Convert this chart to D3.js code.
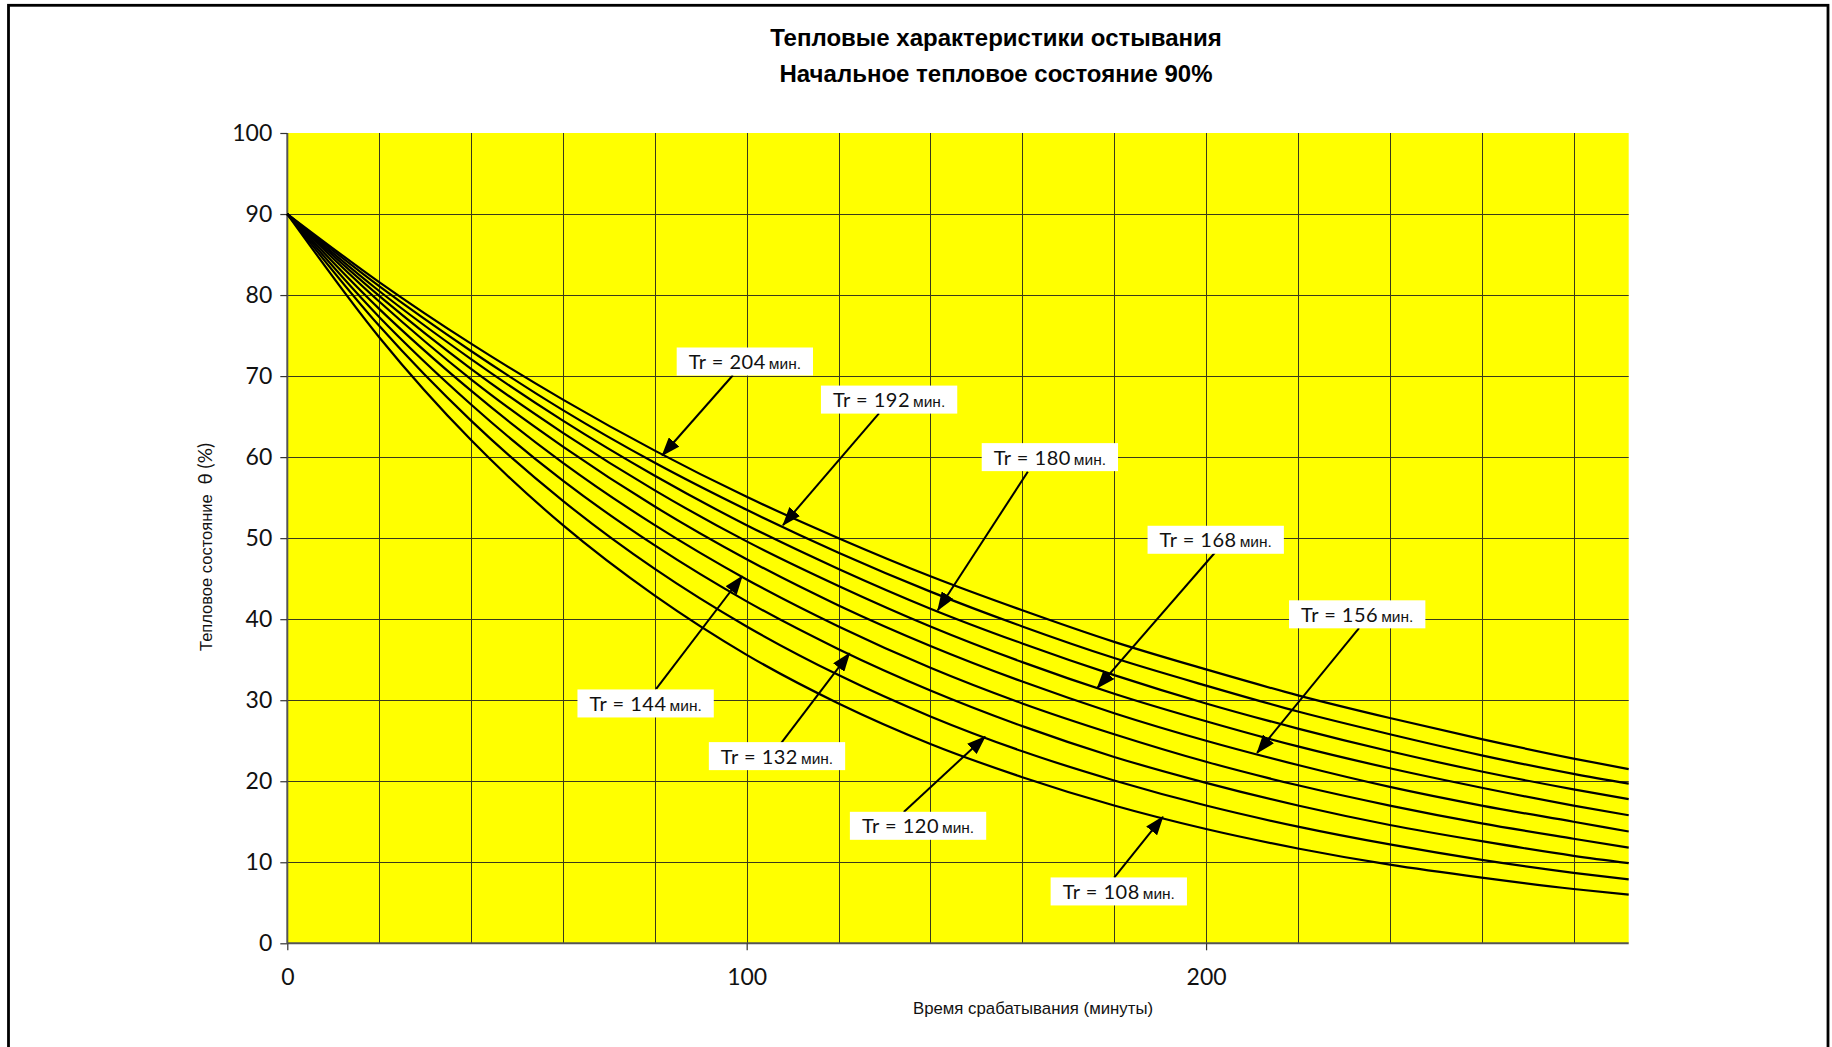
<!DOCTYPE html>
<html><head><meta charset="utf-8">
<script src="https://cdn.jsdelivr.net/npm/d3@7"></script>
<style>body{margin:0;background:#fff;overflow:hidden}</style>
</head><body><svg id="c" width="1832" height="1047"></svg>
<script>
// ---- data ----
const titleLines = ["Тепловые характеристики остывания", "Начальное тепловое состояние 90%"];
const xAxisTitle = "Время срабатывания (минуты)";
const yAxisTitle = "Тепловое состояние";
const xTickValues = [0, 100, 200];
const yTickValues = [0, 10, 20, 30, 40, 50, 60, 70, 80, 90, 100];
const timeMinutes = [0, 20, 40, 60, 80, 100, 120, 140, 160, 180, 200, 220, 240, 260, 280, 292];
const trValues = [108, 120, 132, 144, 156, 168, 180, 192, 204];
const theta108 = [90, 74.8, 62.1, 51.6, 42.9, 35.6, 29.6, 24.6, 20.5, 17.0, 14.1, 11.7, 9.7, 8.1, 6.7, 6.0];
const theta120 = [90, 76.2, 64.5, 54.6, 46.2, 39.1, 33.1, 28.0, 23.7, 20.1, 17.0, 14.4, 12.2, 10.3, 8.7, 7.9];
const theta132 = [90, 77.3, 66.5, 57.1, 49.1, 42.2, 36.3, 31.2, 26.8, 23.0, 19.8, 17.0, 14.6, 12.6, 10.8, 9.9];
const theta144 = [90, 78.3, 68.2, 59.3, 51.6, 44.9, 39.1, 34.0, 29.6, 25.8, 22.4, 19.5, 17.0, 14.8, 12.9, 11.8];
const theta156 = [90, 79.2, 69.6, 61.3, 53.9, 47.4, 41.7, 36.7, 32.3, 28.4, 25.0, 22.0, 19.3, 17.0, 15.0, 13.8];
const theta168 = [90, 79.9, 70.9, 63.0, 55.9, 49.6, 44.1, 39.1, 34.7, 30.8, 27.4, 24.3, 21.6, 19.2, 17.0, 15.8];
const theta180 = [90, 80.5, 72.1, 64.5, 57.7, 51.6, 46.2, 41.3, 37.0, 33.1, 29.6, 26.5, 23.7, 21.2, 19.0, 17.8];
const theta192 = [90, 81.1, 73.1, 65.8, 59.3, 53.5, 48.2, 43.4, 39.1, 35.2, 31.8, 28.6, 25.8, 23.2, 20.9, 19.7];
const theta204 = [90, 81.6, 74.0, 67.1, 60.8, 55.1, 50.0, 45.3, 41.1, 37.2, 33.8, 30.6, 27.8, 25.2, 22.8, 21.5];
const seriesValues = [theta108, theta120, theta132, theta144, theta156, theta168, theta180, theta192, theta204];

// annotation anchors in data units (box centre, arrow tail, arrow tip)
const annoTr   = [204, 192, 180, 168, 156, 144, 132, 120, 108];
const annoBoxX = [99.6, 131.0, 166.0, 202.1, 232.9, 78.0, 106.6, 137.3, 181.0];
const annoBoxY = [71.8, 67.1, 60.0, 49.8, 40.6, 29.6, 23.1, 14.5, 6.4];
const annoTailX = [97.0, 128.8, 161.2, 201.9, 233.3, 80.3, 107.5, 134.2, 180.0];
const annoTailY = [70.1, 65.4, 58.2, 48.2, 38.9, 31.4, 24.7, 16.2, 8.1];
const annoTipX = [81.6, 107.9, 141.6, 176.3, 211.1, 99.0, 122.4, 151.9, 190.6];
const annoTipY = [60.2, 51.6, 41.1, 31.5, 23.5, 45.3, 35.8, 25.5, 15.6];

// ---- drawing ----
const svg = d3.select("#c");
const L = 287.3, R = 1628.7, T = 133, B = 943.3;
const x = d3.scaleLinear().domain([0, 292]).range([L, R]);
const y = d3.scaleLinear().domain([0, 100]).range([B, T]);
const geo = "Lato, 'Open Sans', sans-serif";
const arial = "'Liberation Sans', Arial, sans-serif";

// outer frame
svg.append("rect").attr("x", 8.5).attr("y", 5.3).attr("width", 1819.5).attr("height", 1100)
  .attr("fill", "none").attr("stroke", "#000").attr("stroke-width", 2.8);

// titles
svg.selectAll("text.title").data(titleLines).join("text").attr("class", "title")
  .attr("x", 996).attr("y", (d, i) => 46 + i * 36)
  .attr("text-anchor", "middle").attr("font-family", arial).attr("font-weight", "bold")
  .attr("font-size", 24).text(d => d);

// plot area
svg.append("rect").attr("x", L).attr("y", T).attr("width", R - L).attr("height", B - T).attr("fill", "#ffff00");

// grid
const gridY = yTickValues.filter(v => v > 0 && v < 100);
svg.append("g").selectAll("line").data(gridY).join("line")
  .attr("x1", L).attr("x2", R).attr("y1", d => Math.round(y(d)) + 0.5).attr("y2", d => Math.round(y(d)) + 0.5)
  .attr("stroke", "#3a3a1a").attr("stroke-width", 1);
const gridX = d3.range(20, 292, 20);
svg.append("g").selectAll("line").data(gridX).join("line")
  .attr("y1", T).attr("y2", B).attr("x1", d => Math.round(x(d)) + 0.5).attr("x2", d => Math.round(x(d)) + 0.5)
  .attr("stroke", "#3a3a1a").attr("stroke-width", 1);

// axes
const yAxis = svg.append("g").attr("transform", `translate(${L},0)`)
  .call(d3.axisLeft(y).tickValues(yTickValues).tickSize(7).tickSizeOuter(0).tickPadding(8).tickFormat(d3.format("d")));
const xAxis = svg.append("g").attr("transform", `translate(0,${B})`)
  .call(d3.axisBottom(x).tickValues(xTickValues).tickSize(7).tickSizeOuter(0).tickPadding(18).tickFormat(d3.format("d")));
[yAxis, xAxis].forEach(g => {
  g.select(".domain").attr("stroke", "#555").attr("stroke-width", 2);
  g.selectAll(".tick line").attr("stroke", "#333").attr("stroke-width", 1.2);
  g.selectAll(".tick text").attr("font-family", geo).attr("font-size", 23).attr("fill", "#111");
});
yAxis.select(".domain").attr("d", `M0,${T}V${B}`);
xAxis.select(".domain").attr("d", `M${L},0H${R}`);

// axis titles
svg.append("text").attr("x", 1033).attr("y", 1014).attr("text-anchor", "middle")
  .attr("font-family", arial).attr("font-size", 16.8).attr("fill", "#111").text(xAxisTitle);
const yt = svg.append("text").attr("transform", "translate(212,547) rotate(-90)").attr("text-anchor", "middle")
  .attr("font-family", arial).attr("font-size", 16.5).attr("fill", "#111");
yt.append("tspan").text(yAxisTitle);
yt.append("tspan").attr("font-family", geo).attr("font-size", 19).text("\u00a0\u00a0θ (%)");

// curves
const line = d3.line().x((d, i) => x(timeMinutes[i])).y(d => y(d)).curve(d3.curveMonotoneX);
svg.append("g").selectAll("path").data(seriesValues).join("path")
  .attr("d", d => line(d)).attr("fill", "none").attr("stroke", "#000").attr("stroke-width", 2.2);

// arrow marker
svg.append("defs").append("marker").attr("id", "ah").attr("markerUnits", "userSpaceOnUse")
  .attr("markerWidth", 20).attr("markerHeight", 14).attr("refX", 18).attr("refY", 7).attr("orient", "auto")
  .append("path").attr("d", "M0,0L19,7L0,14Z").attr("fill", "#000");

// annotations
annoTr.forEach((tr, i) => {
  svg.append("line")
    .attr("x1", x(annoTailX[i])).attr("y1", y(annoTailY[i]))
    .attr("x2", x(annoTipX[i])).attr("y2", y(annoTipY[i]))
    .attr("stroke", "#000").attr("stroke-width", 2).attr("marker-end", "url(#ah)");
  const g = svg.append("g");
  const rect = g.append("rect").attr("fill", "#fff");
  const t = g.append("text").attr("x", x(annoBoxX[i])).attr("y", y(annoBoxY[i]) + 7.5)
    .attr("text-anchor", "middle").attr("fill", "#111");
  t.append("tspan").attr("font-family", geo).attr("font-size", 20).attr("letter-spacing", 0.5)
    .text(`Tr\u00a0=\u00a0${tr}`);
  t.append("tspan").attr("font-family", arial).attr("font-size", 15.5).attr("dx", 3).text("мин.");
  const bb = t.node().getBBox();
  const w = Math.max(bb.width + 24, 126), h = 28;
  rect.attr("x", x(annoBoxX[i]) - w / 2).attr("y", y(annoBoxY[i]) - h / 2).attr("width", w).attr("height", h);
});
</script></body></html>
